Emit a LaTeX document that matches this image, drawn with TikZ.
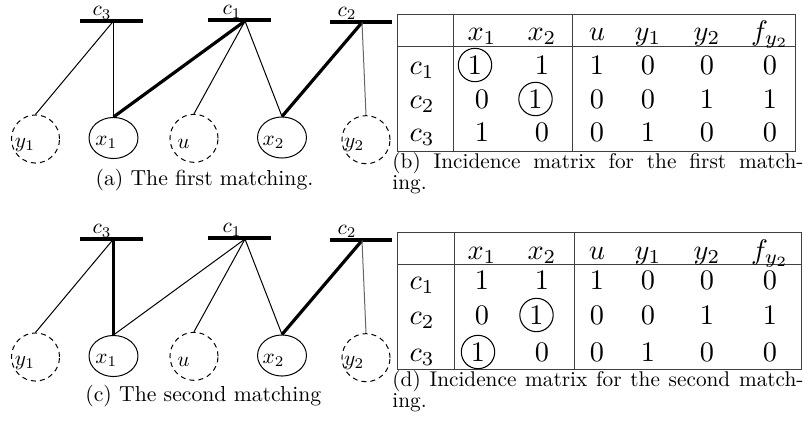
\documentclass[tikz,border=0pt]{standalone}
\usetikzlibrary{shapes.geometric}
\tikzset{
 cbar/.style={rectangle, fill=black, inner sep=0pt, minimum width=29.6pt, minimum height=2pt},
 clab/.style={inner sep=0pt},
 vlab/.style={inner sep=0pt},
 vsol/.style={ellipse, draw, line width=0.47pt, inner sep=0pt, minimum width=23pt, minimum height=19.3pt},
 vdash/.style={circle, draw, line width=0.47pt, dash pattern=on 2.35pt off 1.9pt, inner sep=0pt, minimum size=22.6pt},
 thinedge/.style={line width=0.47pt},
 thickedge/.style={line width=1.5pt},
 grayedge/.style={line width=0.47pt, black!60},
 tline/.style={line width=0.47pt, black!75},
 cell/.style={anchor=base, inner sep=0pt, scale=1.33},
 circcell/.style={circle, draw, line width=0.5pt, inner sep=0pt, minimum size=11.8pt, scale=1.33},
 capt/.style={anchor=base, inner sep=0pt, scale=1.02},
}
\newcommand\mkgraph[1]{%
 \node[cbar] (b3#1) at (111.5,21) {};
 \node[cbar] (b1#1) at (239.5,20) {};
 \node[cbar] (b2#1) at (361,22.3) {};
 \node[clab] (l3#1) at (102,13) {$c_3$};
 \node[clab] (l1#1) at (232,12) {$c_1$};
 \node[clab] (l2#1) at (347,13.5) {$c_2$};
 \coordinate (p3#1) at (113.5,21);
 \coordinate (p1#1) at (245,21);
 \coordinate (p2#1) at (362,22.5);
 \node[vdash, label={[vlab, xshift=-5pt,yshift=-2.8pt]center:$y_1$}] (y1#1) at (35.5,139) {};
 \node[vsol, label={[vlab, xshift=-3.4pt,yshift=-1.9pt]center:$x_1$}] (x1#1) at (113.5,138) {};
 \node[vdash, label={[vlab, xshift=-5pt,yshift=-2.8pt]center:$u$}] (u#1) at (194,138.3) {};
 \node[vsol, label={[vlab, xshift=-4pt,yshift=-2.3pt]center:$x_2$}] (x2#1) at (282,137.5) {};
 \node[vdash, label={[vlab, xshift=-5.6pt,yshift=-2.3pt]center:$y_2$}] (y2#1) at (366,139.7) {};
 \draw[thinedge] (p3#1) -- (y1#1.north);
 \draw[thinedge] (p1#1) -- (u#1.north);
 \draw[thinedge] (p1#1) -- (x2#1.north);
 \draw[thickedge] (p2#1) -- (x2#1.north);
 \draw[grayedge] (p2#1) -- (y2#1.north);
}
\begin{document}
\begin{tikzpicture}[x=0.47pt, y=-0.47pt]
\useasboundingbox (0,0) rectangle (803,423);
% graph (a)
\mkgraph{a}
\draw[thinedge] (p3a) -- (x1a.north);
\draw[thickedge] (p1a) -- (x1a.north);
% graph (c)
\begin{scope}[yshift=-102.46pt]
\mkgraph{c}
\draw[thickedge] (p3c) -- (x1c.north);
\draw[thinedge] (p1c) -- (x1c.north);
\end{scope}
% captions
\node[capt] (capa) at (204.5,185) {(a) The first matching.};
\node[capt] (capc) at (203.3,401) {(c) The second matching};
\node[anchor=base west, inner sep=0pt] (capb) at (392,168) {\parbox[t]{193.2pt}{\baselineskip=10.3pt (b) Incidence matrix for the first match-\linebreak ing.}};
\node[anchor=base west, inner sep=0pt] (capd) at (392,386) {\parbox[t]{193.2pt}{\baselineskip=10pt (d) Incidence matrix for the second match-\linebreak ing.}};
% table (b)
\draw[tline] (397.7,14) rectangle (795,151.7);
\draw[tline] (397.7,46.7) -- (795,46.7);
\draw[tline] (453,14) -- (453,151.7);
\draw[tline] (572.7,14) -- (572.7,151.7);
% table (d)
\draw[tline] (397.7,232.3) rectangle (801,369.7);
\draw[tline] (397.7,264.7) -- (801,264.7);
\draw[tline] (454.3,232.3) -- (454.3,369.7);
\draw[tline] (574,232.3) -- (574,369.7);
% headers
\foreach \tp/\yy in {b/40, d/259}{
 \foreach \xx/\hh [count=\k] in {482/x_1, 542/x_2, 597/u, 648/y_1, 707/y_2, 770/f_{y_2}}
   \node[cell] (\tp h\k) at (\xx,\yy) {$\hh$};
}
\foreach \yy [count=\r] in {74,108,141} \node[cell] (br\r) at (422,\yy) {$c_\r$};
\foreach \yy [count=\r] in {289,324,361} \node[cell] (dr\r) at (422,\yy) {$c_\r$};
% table (b) entries
\foreach \xx/\yy/\vv [count=\k] in {542/74/1, 597/74/1, 648/74/0, 707/74/0, 770/74/0, 482/108/0, 597/108/0, 648/108/0, 707/108/1, 770/108/1, 482/141/1, 542/141/0, 597/141/0, 648/141/1, 707/141/0, 770/141/0}
 \node[cell] (bv\k) at (\xx,\yy) {$\vv$};
\node[circcell] (bo1) at (475,65) {$1$};
\node[circcell] (bo2) at (535.5,99) {$1$};
% table (d) entries
\foreach \xx/\yy/\vv [count=\k] in {482/289/1, 542/289/1, 597/289/1, 648/289/0, 707/289/0, 770/289/0, 482/324/0, 597/324/0, 648/324/0, 707/324/1, 770/324/1, 542/361/0, 597/361/0, 648/361/1, 707/361/0, 770/361/0}
 \node[cell] (dv\k) at (\xx,\yy) {$\vv$};
\node[circcell] (do1) at (536.5,315) {$1$};
\node[circcell] (do2) at (478,352) {$1$};
\end{tikzpicture}
\end{document}
